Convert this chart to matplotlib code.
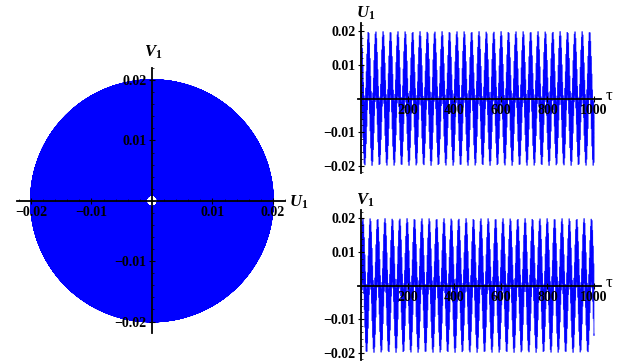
import matplotlib
matplotlib.use("Agg")
import matplotlib.pyplot as plt
import numpy as np
from matplotlib.collections import LineCollection
from matplotlib.ticker import MultipleLocator, FuncFormatter

# values
amp = [0.0105, 0.0095]        # slow / fast mode amplitudes (disc radius 0.02, hole ~0.001)
freq = [0.1985, 2.4556]       # ~31.6 slow cycles over tau = 0..1000
tau_end = 1000
x_ticks = [-0.02, -0.01, 0.01, 0.02]
t_ticks = [200, 400, 600, 800, 1000]

plt.rcParams["mathtext.fontset"] = "custom"
plt.rcParams["mathtext.rm"] = "Liberation Serif:bold"
plt.rcParams["mathtext.it"] = "Liberation Serif:bold:italic"
tick_font = dict(family="Liberation Serif", weight="bold", size=10)
BLUE = "#0000ff"

tau = np.linspace(0, tau_end, 60000)
U1 = amp[0] * np.cos(freq[0] * tau) + amp[1] * np.cos(freq[1] * tau)
V1 = amp[0] * np.sin(freq[0] * tau) + amp[1] * np.sin(freq[1] * tau)

fig = plt.figure(figsize=(6.26, 3.62), dpi=100)
W, H = 626, 362


def axes_px(x0, y0, x1, y1):
    return fig.add_axes([x0 / W, 1 - y1 / H, (x1 - x0) / W, (y1 - y0) / H])


def style(ax):
    ax.set_axisbelow(False)
    for s in ["top", "right"]:
        ax.spines[s].set_visible(False)
    for s in ["left", "bottom"]:
        ax.spines[s].set_position(("data", 0))
        ax.spines[s].set_linewidth(1.3)
        ax.spines[s].set_zorder(5)
    ax.patch.set_alpha(0)
    ax.tick_params(which="major", direction="inout", length=4, width=0.8, pad=2)
    ax.tick_params(which="minor", direction="in", length=1.5, width=0.5)
    fmt = FuncFormatter(lambda v, p: ("\u2212" if v < 0 else "") + f"{abs(v):g}")
    ax.yaxis.set_major_formatter(fmt)
    ax.xaxis.set_major_formatter(fmt)


# phase portrait
ax = axes_px(17, 68, 285, 333)
ax.plot(U1, V1, color=BLUE, lw=1.2, zorder=1)
ax.set_xlim(-0.0223, 0.022)
ax.set_ylim(-0.0219, 0.022)
ax.set_xticks(x_ticks)
ax.set_yticks(x_ticks)
ax.xaxis.set_minor_locator(MultipleLocator(0.002))
ax.yaxis.set_minor_locator(MultipleLocator(0.002))
style(ax)
for lab in ax.get_xticklabels() + ax.get_yticklabels():
    lab.set(**tick_font)
fig.text(289 / W, 1 - 202 / H, "$U_1$", fontsize=12, va="center")
fig.text(144 / W, 1 - 52 / H, "$V_1$", fontsize=12, va="center")

# time series
for (y0, y1, series, name) in [(23, 173, U1, "$U_1$"), (210, 360, V1, "$V_1$")]:
    ax = axes_px(358, y0, 601, y1)
    pts = np.column_stack([tau, series])
    segs = np.stack([pts[:-1], pts[1:]], axis=1)
    ax.add_collection(LineCollection(segs, colors=BLUE, linewidths=0.8, alpha=0.8, zorder=1))
    ax.set_xlim(-13, 1030)
    ax.set_ylim(-0.0222, 0.0225)
    ax.set_xticks(t_ticks)
    ax.set_yticks([-0.02, -0.01, 0.01, 0.02])
    ax.xaxis.set_minor_locator(MultipleLocator(50))
    ax.yaxis.set_minor_locator(MultipleLocator(0.002))
    style(ax)
    for lab in ax.get_xticklabels() + ax.get_yticklabels():
        lab.set(**tick_font)
    ax.annotate("\u03c4", xy=(1, 0), xycoords=("axes fraction", "data"),
                xytext=(3, 2), textcoords="offset points", fontsize=12,
                family="Liberation Serif", ha="left", va="center",
                annotation_clip=False)
    fig.text(356 / W, 1 - (y0 - 10) / H, name, fontsize=12, va="center")

fig.savefig("out.png", dpi=100)
